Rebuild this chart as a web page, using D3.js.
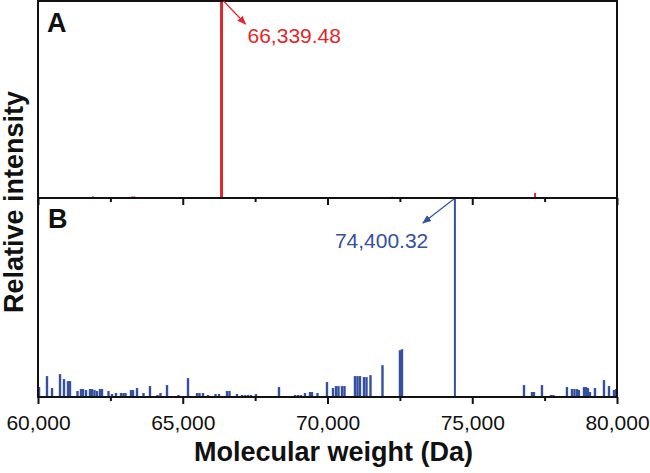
<!DOCTYPE html>
<html lang="en">
  <head>
    <meta charset="utf-8">
    <title>Mass spectra</title>
    <script src="https://d3js.org/d3.v7.min.js"></script>
    <style>
      body { margin: 0; background: #fff; }
      svg { display: block; font-family: "Liberation Sans", Arial, sans-serif; }
    </style>
  </head>
  <body>
    <div id="main"></div>
    <script>
      // Data (Da, relative intensity %)
      const peakA = { mass: 66339.48, label: '66,339.48' };
      const massA = [61900, 63250, 63330, 68260, 72230, 77170, 66339.48];
      const intensityA = [0.8, 0.8, 0.8, 0.5, 0.6, 2.5, 100];

      const peakB = { mass: 74400.32, label: '74,400.32' };
      const massB = [
        60035, 60311, 60484, 60760, 60898, 61036, 61105, 61364, 61485, 61554,
        61658, 61796, 61865, 61951, 62038, 62141, 62211, 62435, 62556, 62694,
        62867, 62953, 63022, 63212, 63281, 63420, 63644, 63868, 64127, 64231,
        64456, 64853, 65181, 65492, 65578, 65699, 65872, 66131, 66252, 66528,
        66615, 66874, 67046, 67150, 67254, 67357, 67530, 67772, 68324, 68877,
        68980, 69084, 69222, 69395, 69464, 69654, 69982, 70189, 70293, 70379,
        70500, 70587, 70949, 71036, 71122, 71260, 71347, 71485, 71899, 72503,
        72573, 74400.32, 76787, 77063, 77132, 77408, 77719, 77805, 78271, 78444,
        78530, 78617, 78686, 78859, 78928, 78997, 79066, 79239, 79550, 79723,
        79896, 79965
      ];
      const intensityB = [
        5, 10.5, 4.5, 11.5, 9, 8, 8, 3, 4, 4,
        3.5, 4, 4, 3.5, 3, 4, 4, 3, 1.5, 2,
        2, 2, 2, 3.5, 3.5, 4.5, 2, 5.5, 1, 2,
        6, 1, 9.5, 2, 2, 2, 1, 1.5, 1.5, 3,
        3, 1.5, 1, 1, 1, 1, 1.5, 0.5, 5, 1,
        1, 1, 2, 2.5, 2.5, 2, 7.5, 4.5, 5.5, 5.5,
        5.5, 5.5, 10.5, 10.5, 10.5, 10, 10, 11, 16, 23.5,
        24, 100, 6, 2.5, 2.5, 6, 1, 1, 5, 4,
        4, 4, 3.5, 5, 5, 4.5, 2.5, 4.5, 8.5, 5.5,
        3.5, 4
      ];

      const majorTicks = [60000, 65000, 70000, 75000, 80000];
      const minorTicks = [62500, 67500, 72500, 77500];

      // Layout
      const width = 650, height = 473;
      const left = 38, right = 617;
      const topA = 1, mid = 198, bottom = 397;
      const red = '#e3262b', blue = '#34509f';

      const svg = d3.select('#main').append('svg')
        .attr('width', width)
        .attr('height', height);

      const x = d3.scaleLinear().domain([60000, 80000]).range([left, right]);
      const yA = d3.scaleLinear().domain([0, 100]).range([mid, topA - 1]);
      const yB = d3.scaleLinear().domain([0, 100]).range([bottom, mid]);

      const dataA = massA.map((m, i) => ({ m, v: intensityA[i] }));
      const dataB = massB.map((m, i) => ({ m, v: intensityB[i] }));

      // Panel A
      svg.append('g')
        .selectAll('line')
        .data(dataA)
        .join('line')
          .attr('x1', d => x(d.m))
          .attr('x2', d => x(d.m))
          .attr('y1', yA(0))
          .attr('y2', d => yA(d.v))
          .attr('stroke', red)
          .attr('stroke-width', d => d.v > 50 ? 3 : 2);

      // Panel B
      svg.append('g')
        .selectAll('rect')
        .data(dataB.filter(d => d.v < 50))
        .join('rect')
          .attr('x', d => x(d.m) - 1.2)
          .attr('width', 2.4)
          .attr('y', d => yB(d.v))
          .attr('height', d => yB(0) - yB(d.v))
          .attr('fill', blue);

      svg.append('g')
        .selectAll('line')
        .data(dataB.filter(d => d.v >= 50))
        .join('line')
          .attr('x1', d => x(d.m))
          .attr('x2', d => x(d.m))
          .attr('y1', yB(0))
          .attr('y2', d => yB(d.v))
          .attr('stroke', blue)
          .attr('stroke-width', 2);

      // Frames
      [[topA, mid], [mid, bottom]].forEach(([t, b]) => {
        svg.append('rect')
          .attr('x', left)
          .attr('y', t)
          .attr('width', right - left)
          .attr('height', b - t)
          .attr('fill', 'none')
          .attr('stroke', '#111')
          .attr('stroke-width', 2);
      });

      // Ticks on the shared line and bottom axis
      function ticks(y, vals, size, labels) {
        const axis = d3.axisBottom(x)
          .tickValues(vals)
          .tickSize(size)
          .tickSizeOuter(0)
          .tickFormat(labels ? d3.format(',') : '');
        const g = svg.append('g')
          .attr('transform', `translate(0,${y})`)
          .call(axis);
        g.select('.domain').remove();
        g.selectAll('.tick line').attr('stroke', '#111').attr('stroke-width', 2);
        g.selectAll('.tick text')
          .attr('y', 33)
          .attr('dy', 0)
          .attr('fill', '#111')
          .style('font-size', '21px');
        return g;
      }
      ticks(mid, majorTicks, 7, false);
      ticks(mid, minorTicks, 4, false);
      ticks(bottom, majorTicks, 7, true);
      ticks(bottom, minorTicks, 4, false);

      // Panel letters
      svg.append('text').attr('x', 47).attr('y', 32).text('A')
        .style('font-size', '27px').style('font-weight', 'bold').attr('fill', '#111');
      svg.append('text').attr('x', 48).attr('y', 228).text('B')
        .style('font-size', '27px').style('font-weight', 'bold').attr('fill', '#111');

      // Annotations
      const defs = svg.append('defs');
      [['arrRed', red], ['arrBlue', blue]].forEach(([id, c]) => {
        defs.append('marker')
          .attr('id', id)
          .attr('viewBox', '0 0 10 10')
          .attr('refX', 9).attr('refY', 5)
          .attr('markerWidth', 9).attr('markerHeight', 9)
          .attr('markerUnits', 'userSpaceOnUse')
          .attr('orient', 'auto')
          .append('path')
            .attr('d', 'M0,1 L10,5 L0,9 Z')
            .attr('fill', c);
      });

      svg.append('line')
        .attr('x1', x(peakA.mass) + 2).attr('y1', yA(100) + 1)
        .attr('x2', x(peakA.mass) + 24).attr('y2', yA(100) + 24)
        .attr('stroke', red).attr('stroke-width', 1.2)
        .attr('marker-end', 'url(#arrRed)');
      svg.append('text')
        .attr('x', x(peakA.mass) + 26).attr('y', 43)
        .text(peakA.label)
        .attr('fill', red)
        .style('font-size', '21px');

      svg.append('line')
        .attr('x1', x(peakB.mass) - 1).attr('y1', yB(100) + 1)
        .attr('x2', x(peakB.mass) - 32).attr('y2', yB(100) + 25)
        .attr('stroke', blue).attr('stroke-width', 1.2)
        .attr('marker-end', 'url(#arrBlue)');
      svg.append('text')
        .attr('x', x(peakB.mass) - 120).attr('y', 248)
        .text(peakB.label)
        .attr('fill', blue)
        .style('font-size', '21px');

      // Axis titles
      svg.append('text')
        .attr('x', (left + right) / 2 + 6).attr('y', 461)
        .attr('text-anchor', 'middle')
        .text('Molecular weight (Da)')
        .attr('fill', '#111')
        .style('font-size', '27px').style('font-weight', 'bold');

      svg.append('text')
        .attr('transform', `translate(23,${(mid + 4)}) rotate(-90)`)
        .attr('text-anchor', 'middle')
        .text('Relative intensity')
        .attr('fill', '#111')
        .style('font-size', '27px').style('font-weight', 'bold');
    </script>
  </body>
</html>
